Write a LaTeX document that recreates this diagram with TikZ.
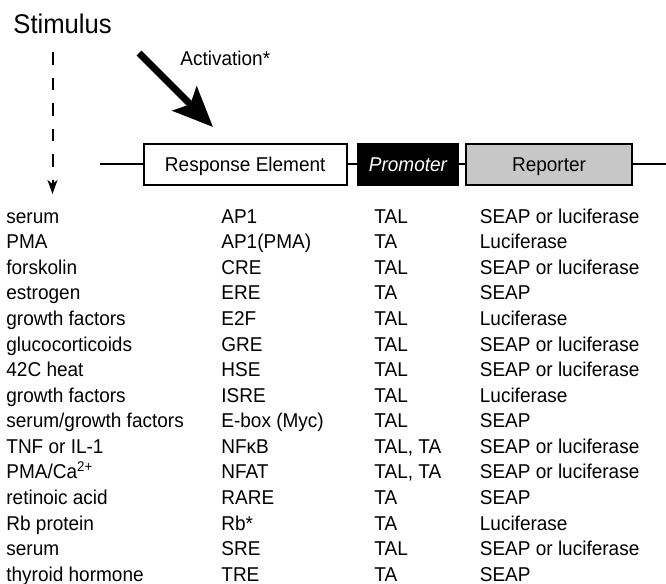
\documentclass[tikz,border=0pt]{standalone}
\usepackage{fontspec}
\setmainfont{Liberation Sans}[FakeStretch=0.95]
\usetikzlibrary{arrows.meta,positioning}

\tikzset{
  cell/.style={anchor=base west, inner sep=0pt},
  partbox/.style={draw=black, line width=1pt, minimum height=20.5pt, inner sep=0pt,
    text height=7.1pt, text depth=0pt},
  wire/.style={line width=1pt},
}

\begin{document}
\begin{tikzpicture}[x=0.5pt, y=-0.5pt, font=\fontsize{10pt}{12pt}\selectfont]
		%%%%% START %%%%%
		\useasboundingbox (0,0) rectangle (666,584);
		
		\node[cell, font=\fontsize{13.5pt}{15pt}\selectfont] (stim) at (13,33) {Stimulus};
		\coordinate (stimtop) at (52.5,52);
		\coordinate (stimend) at (52.5,194);
		\draw[wire, dash pattern=on 6.25pt off 6.5pt, -{Stealth[length=7pt,width=5pt,inset=2pt]}] (stimtop) -- (stimend);
		
		\node[cell] (act) at (180,65) {Activation*};
		\coordinate (actstart) at (139,53);
		\coordinate (acttip) at (213,127);
		\draw[line width=3.5pt, -{Stealth[length=20pt,width=17pt,inset=4pt]}] (actstart) -- (acttip);
		
		% construct
		\coordinate (bbleft) at (100,164);
		\coordinate (bbright) at (666,164);
		\node[partbox, fill=white, minimum width=101.75pt, anchor=west] (re) at (142.5,164) {Response Element};
		\node[partbox, fill=black, text=white, minimum width=50pt, right=4.5pt of re] (prom) {\itshape Promoter};
		\node[partbox, fill=black!22, minimum width=83pt, right=3pt of prom] (rep) {Reporter};
		\draw[wire] (bbleft) -- (re.west);
		\draw[wire] (re.east) -- (prom.west);
		\draw[wire] (prom.east) -- (rep.west);
		\draw[wire] (rep.east) -- (bbright);
		
		% table
		\foreach \st/\el/\pr/\rp [count=\i from 0] in {
			{serum}/{AP1}/{TAL}/{SEAP or luciferase},
			{PMA}/{AP1(PMA)}/{TA}/{Luciferase},
			{forskolin}/{CRE}/{TAL}/{SEAP or luciferase},
			{estrogen}/{ERE}/{TA}/{SEAP},
			{growth factors}/{E2F}/{TAL}/{Luciferase},
			{glucocorticoids}/{GRE}/{TAL}/{SEAP or luciferase},
			{42C heat}/{HSE}/{TAL}/{SEAP or luciferase},
			{growth factors}/{ISRE}/{TAL}/{Luciferase},
			{serum/growth factors}/{E-box (Myc)}/{TAL}/{SEAP},
			{TNF or IL-1}/{NFκB}/{TAL, TA}/{SEAP or luciferase},
			{PMA/Ca\textsuperscript{2+}}/{NFAT}/{TAL, TA}/{SEAP or luciferase},
			{retinoic acid}/{RARE}/{TA}/{SEAP},
			{Rb protein}/{Rb*}/{TA}/{Luciferase},
			{serum}/{SRE}/{TAL}/{SEAP or luciferase},
			{thyroid hormone}/{TRE}/{TA}/{SEAP}} {
			\node[cell] (s\i) at (6,{223.3+25.56*\i}) {\st};
			\node[cell] (e\i) at (221,{223.3+25.56*\i}) {\el};
			\node[cell] (p\i) at (374,{223.3+25.56*\i}) {\pr};
			\node[cell] (r\i) at (479.5,{223.3+25.56*\i}) {\rp};
		}
		
		%%%%% END %%%%%
\end{tikzpicture}
\end{document}
